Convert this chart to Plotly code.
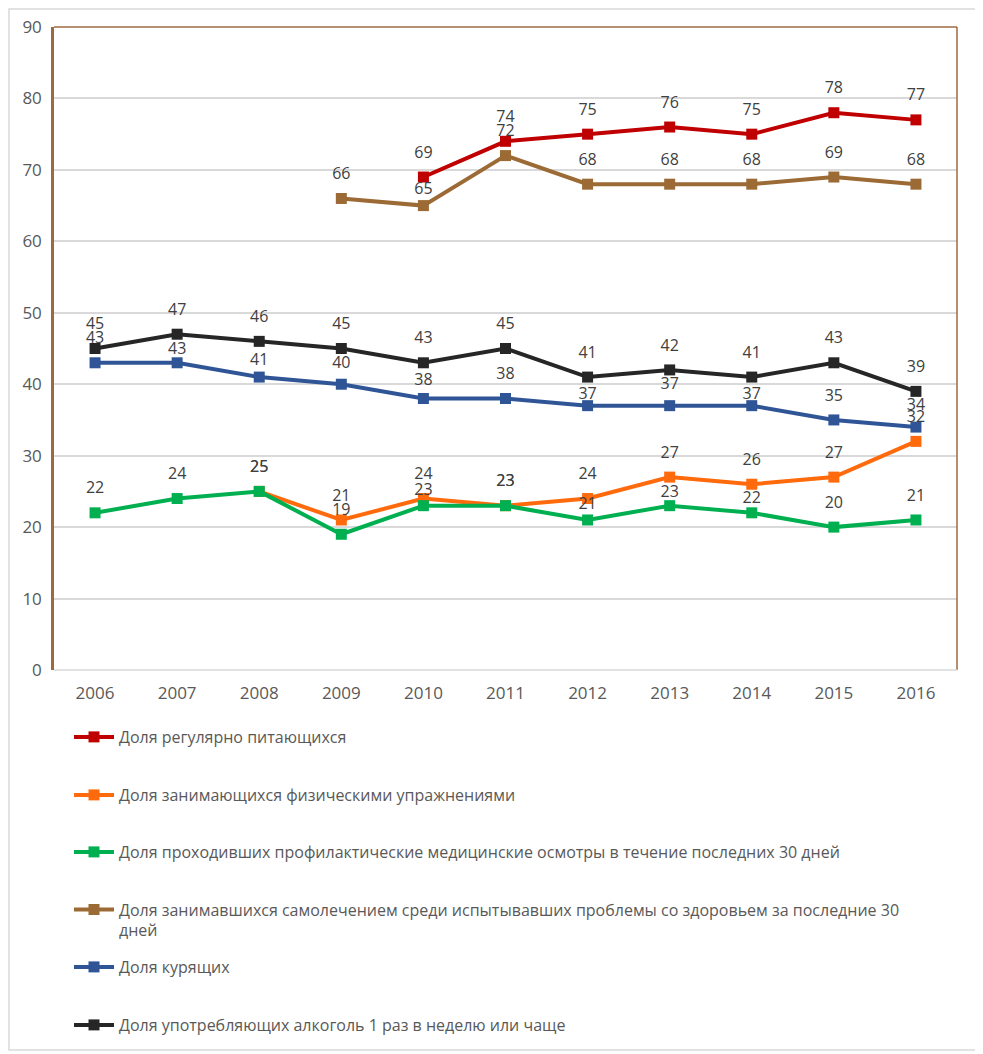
import plotly.graph_objects as go

years = ["2006", "2007", "2008", "2009", "2010", "2011", "2012", "2013", "2014", "2015", "2016"]

names = [
    "Доля регулярно питающихся",
    "Доля занимающихся физическими упражнениями",
    "Доля проходивших профилактические медицинские осмотры в течение последних 30 дней",
    "Доля занимавшихся самолечением среди испытывавших проблемы со здоровьем за последние 30<br>дней",
    "Доля курящих",
    "Доля употребляющих алкоголь 1 раз в неделю или чаще",
]

eating = [None, None, None, None, 69, 74, 75, 76, 75, 78, 77]
exercise = [None, None, 25, 21, 24, 23, 24, 27, 26, 27, 32]
checkups = [22, 24, 25, 19, 23, 23, 21, 23, 22, 20, 21]
selfmed = [None, None, None, 66, 65, 72, 68, 68, 68, 69, 68]
smokers = [43, 43, 41, 40, 38, 38, 37, 37, 37, 35, 34]
alcohol = [45, 47, 46, 45, 43, 45, 41, 42, 41, 43, 39]

series = [eating, exercise, checkups, selfmed, smokers, alcohol]
colors = ["#C00000", "#FF6A0D", "#00B050", "#9C6A35", "#2F5597", "#262626"]

# style: label distance above the marker (px), where the original nudged labels closer
DEFAULT_GAP = 26
label_gap = {
    2: {"2010": 17, "2012": 18, "2013": 15, "2014": 16},
    3: {"2010": 18},
    4: {"2007": 15, "2008": 19, "2009": 23, "2010": 20, "2012": 13, "2013": 23, "2014": 13, "2016": 24},
}

# page body has an 8px margin, so figure coords = screen coords - 8
OFF = 8
W, H = 983 - OFF, 1054 - OFF
L, R, T, B = 54 - OFF, 957 - OFF, 27 - OFF, 670 - OFF
legend_centers = [737 - OFF, 795 - OFF, 852 - OFF, 920 - OFF, 967 - OFF, 1025 - OFF]

fig = go.Figure()
for i, (name, vals, col) in enumerate(zip(names, series, colors)):
    lg = "legend" if i == 0 else f"legend{i+1}"
    fig.add_trace(go.Scatter(
        x=years, y=vals, name=name, mode="lines+markers",
        line=dict(color=col, width=4),
        marker=dict(symbol="square", size=11, color=col),
        cliponaxis=False,
        legend=lg,
        connectgaps=False,
        hoverinfo="x+y+name",
    ))

# data labels on top of all lines (transparent markers only set the label offset)
for i, vals in enumerate(series):
    lg = "legend" if i == 0 else f"legend{i+1}"
    gaps = label_gap.get(i, {})
    sizes = [max(1.0, 1.6 * (gaps.get(yr, DEFAULT_GAP) - 11.6)) for yr in years]
    fig.add_trace(go.Scatter(
        x=years, y=vals, mode="markers+text", showlegend=False,
        marker=dict(symbol="square", size=sizes, color="rgba(0,0,0,0)",
                    line=dict(width=0, color="rgba(0,0,0,0)")),
        text=[None if v is None else str(v) for v in vals],
        textposition="top center",
        textfont=dict(size=16, color="#404040", family="Open Sans"),
        cliponaxis=False, hoverinfo="skip", legend=lg,
    ))

layout_legends = {}
for i, yc in enumerate(legend_centers):
    key = "legend" if i == 0 else f"legend{i+1}"
    layout_legends[key] = dict(
        x=(77 - OFF - 8) / W, xref="container", xanchor="left",
        y=1 - yc / H, yref="container", yanchor="middle",
        bgcolor="rgba(0,0,0,0)", borderwidth=0,
        font=dict(size=16, color="#595959", family="Open Sans"),
        valign="top", itemwidth=40,
    )

brown = "#9C6A3F"
fig.update_layout(
    width=W, height=H,
    margin=dict(l=L, r=W - R, t=T, b=H - B, autoexpand=False),
    paper_bgcolor="white", plot_bgcolor="white",
    font=dict(family="Open Sans", color="#595959", size=16),
    showlegend=True,
    xaxis=dict(
        type="category", range=[-0.5, 10.5], showgrid=False,
        showline=False, zeroline=False, ticks="",
        tickfont=dict(size=17, color="#595959"), ticklabelstandoff=11,
        automargin=False, tickangle=0,
    ),
    yaxis=dict(
        range=[0, 90], dtick=10, showgrid=True, gridcolor="#D9D9D9", gridwidth=1.5,
        zeroline=False, showline=True, linecolor=brown, linewidth=2.5,
        ticks="", tickfont=dict(size=17, color="#595959"), ticklabelstandoff=6,
        automargin=False,
    ),
    **layout_legends,
)

# plot-area border (top and right) and outer chart border
fig.add_shape(type="line", xref="paper", yref="paper", x0=0, x1=1, y0=1, y1=1,
              line=dict(color=brown, width=1.5))
fig.add_shape(type="line", xref="paper", yref="paper", x0=1, x1=1, y0=0, y1=1,
              line=dict(color=brown, width=1.5))
fig.add_shape(type="line", xref="paper", yref="paper", x0=0, x1=1, y0=0, y1=0,
              line=dict(color="#D9D9D9", width=1.5))
fig.add_shape(type="rect", xref="paper", yref="paper",
              x0=(1 - L) / (R - L), x1=(978 - OFF - L) / (R - L),
              y0=(B - (1050 - OFF)) / (B - T), y1=(B - 1) / (B - T),
              line=dict(color="#D9D9D9", width=1.5), layer="below")

fig.write_html("out.html")
